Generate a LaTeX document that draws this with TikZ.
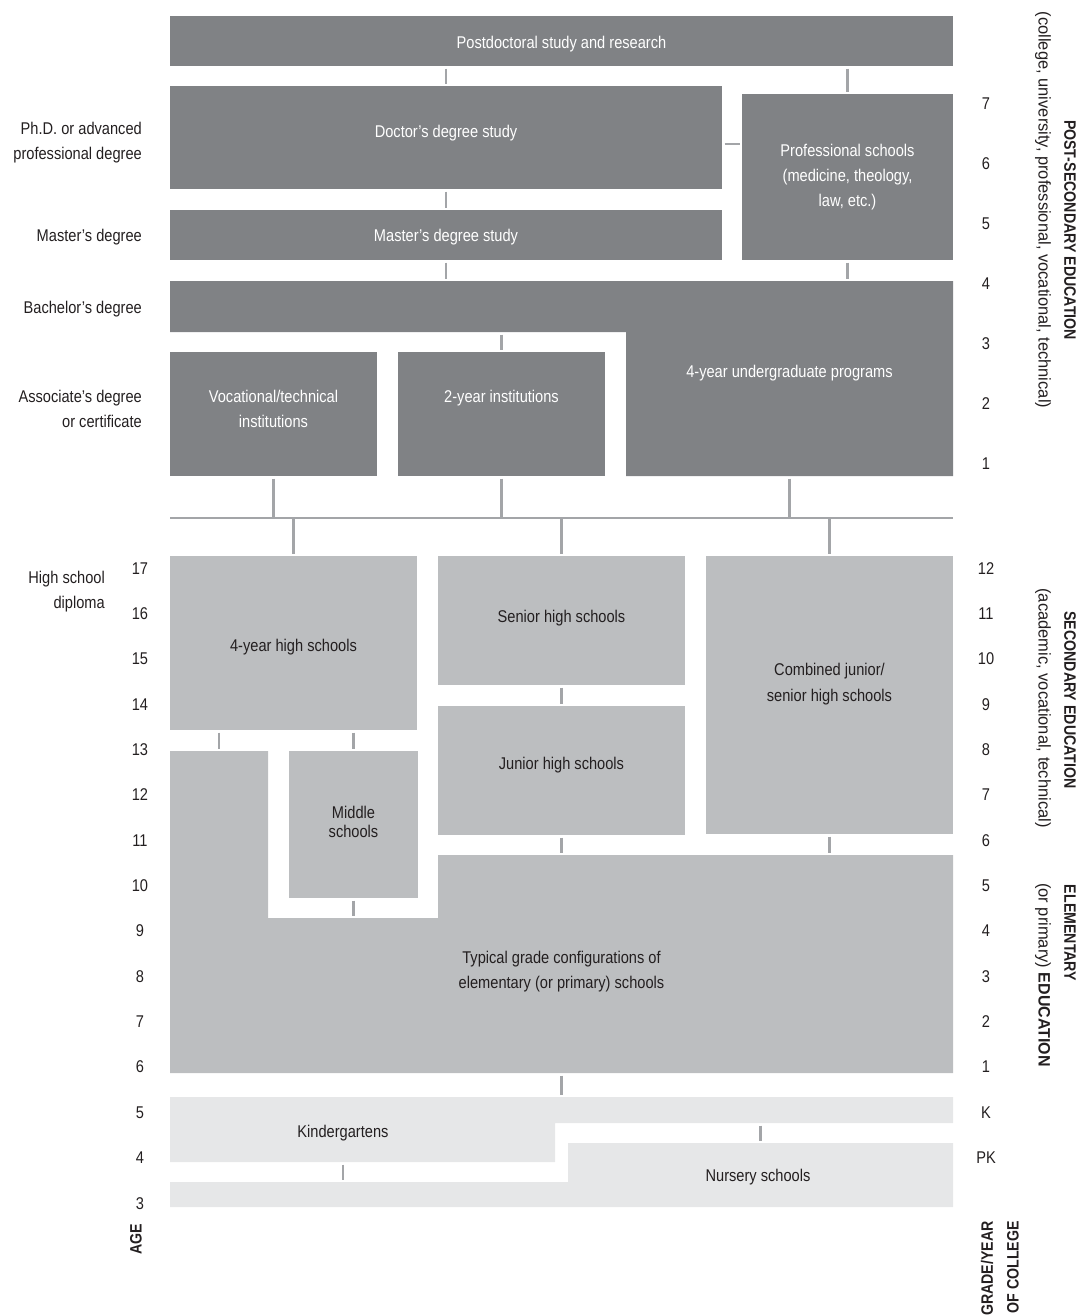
\documentclass[tikz,border=0pt]{standalone}
\usepackage{fontspec}
\setmainfont{Liberation Sans}[FakeStretch=0.86]
\newfontfamily\sidefont{Liberation Sans}[FakeStretch=0.97]
\usetikzlibrary{calc}
\definecolor{dk}{RGB}{128,130,133}
\definecolor{md}{RGB}{188,190,192}
\definecolor{lt}{RGB}{230,231,232}
\definecolor{ln}{RGB}{163,165,168}
\definecolor{tx}{RGB}{35,31,32}
\newcommand\myfs{\fontsize{17}{25}\selectfont}
\newcommand\mybf{\fontsize{16.5}{25}\selectfont\bfseries}
\newcommand\mysd{\fontsize{17}{25}\selectfont\sidefont}
\begin{document}
\begin{tikzpicture}[x=1pt,y=-1pt,
  box/.style={anchor=north west, inner sep=0pt, outer sep=0pt, draw=none},
  dbox/.style={box, fill=dk},
  mbox/.style={box, fill=md},
  txt/.style={inner sep=0pt, anchor=base, align=center, font=\myfs, text=tx},
  wtxt/.style={txt, text=white},
  ltxt/.style={inner sep=0pt, anchor=base east, align=right, font=\myfs, text=tx},
  num/.style={inner sep=0pt, anchor=base, font=\myfs, text=tx},
  vtitle/.style={inner sep=0pt, anchor=center, rotate=-90, text=tx},
  conn/.style={draw=ln, line width=2.2pt, shorten <=2.5pt, shorten >=2.5pt},
  connl/.style={draw=ln, line width=2.2pt, shorten <=2.5pt},
  connr/.style={draw=ln, line width=2.2pt, shorten >=2.5pt}
]
\useasboundingbox (0,0) rectangle (1083,1315);

% ---------- post-secondary ----------
\node[dbox, minimum width=783pt, minimum height=50pt] (pd) at (170,16) {};
\node[dbox, minimum width=552pt, minimum height=103pt] (doc) at (170,86) {};
\node[dbox, minimum width=211pt, minimum height=166pt] (prof) at (742,94) {};
\node[dbox, minimum width=552pt, minimum height=50pt] (mas) at (170,210) {};
\fill[dk] (170,281) -- (953,281) -- (953,476) -- (626,476) -- (626,332) -- (170,332) -- cycle;
\coordinate (bachN) at (170,281);
\coordinate (bachS) at (170,332);
\coordinate (ugS) at (789.5,476);
\node[dbox, minimum width=207pt, minimum height=124pt] (voc) at (170,352) {};
\node[dbox, minimum width=207pt, minimum height=124pt] (two) at (398,352) {};

% ---------- secondary ----------
\node[mbox, minimum width=247pt, minimum height=174pt] (hs4) at (170,556) {};
\node[mbox, minimum width=247pt, minimum height=129pt] (sen) at (438,556) {};
\node[mbox, minimum width=247pt, minimum height=278pt] (comb) at (706,556) {};
\node[mbox, minimum width=247pt, minimum height=129pt] (jun) at (438,706) {};
\node[mbox, minimum width=129pt, minimum height=147pt] (mid) at (289,751) {};
\fill[md] (170,751) -- (268,751) -- (268,918) -- (438,918) -- (438,855) -- (953,855) -- (953,1073) -- (170,1073) -- cycle;
\coordinate (elcolN) at (219,751);
\coordinate (elemN) at (438,855);
\coordinate (gapB) at (268,918);
\coordinate (elemS) at (561.5,1073);

% ---------- pre-primary ----------
\fill[lt] (170,1097) -- (953,1097) -- (953,1123) -- (555,1123) -- (555,1162) -- (170,1162) -- cycle;
\fill[lt] (170,1182) -- (568,1182) -- (568,1143) -- (953,1143) -- (953,1207) -- (170,1207) -- cycle;
\coordinate (kN) at (170,1097);
\coordinate (kRB) at (953,1123);
\coordinate (kLB) at (343,1162);
\coordinate (nuN) at (760.5,1143);
\coordinate (nuBL) at (170,1182);

% ---------- connectors ----------
\draw[conn] (pd.south -| doc.north) -- (doc.north);
\draw[conn] (pd.south -| prof.north) -- (prof.north);
\coordinate (dpy) at (0,144);
\draw[conn] (doc.east |- dpy) -- (prof.west |- dpy);
\draw[conn] (doc.south) -- (mas.north);
\draw[conn] (mas.south) -- (mas.south |- bachN);
\draw[conn] (prof.south) -- (prof.south |- bachN);
\draw[conn] (two.north |- bachS) -- (two.north);
\coordinate (hlW) at (170,518);
\coordinate (hlE) at (953,518);
\draw[draw=ln, line width=2.6pt] (hlW) -- (hlE);
\draw[connl] (voc.south) -- (voc.south |- hlW);
\draw[connl] (two.south) -- (two.south |- hlW);
\draw[connl] (ugS) -- (ugS |- hlW);
\draw[connr] (hlW -| hs4.north) -- (hs4.north);
\draw[connr] (hlW -| sen.north) -- (sen.north);
\draw[connr] (hlW -| comb.north) -- (comb.north);
\draw[conn] (hs4.south -| elcolN) -- (elcolN);
\draw[conn] (hs4.south -| mid.north) -- (mid.north);
\draw[conn] (sen.south) -- (jun.north);
\draw[conn] (jun.south) -- (jun.south |- elemN);
\draw[conn] (comb.south) -- (comb.south |- elemN);
\draw[conn] (mid.south) -- (mid.south |- gapB);
\draw[conn] (elemS) -- (elemS |- kN);
\draw[conn] (nuN |- kRB) -- (nuN);
\draw[conn] (kLB) -- (kLB |- nuBL);

% ---------- box texts (base = baseline of last line) ----------
\node[wtxt] (pdT) at (561.5,48) {Postdoctoral study and research};
\node[wtxt] (docT) at (446,137) {Doctor’s degree study};
\node[wtxt] (profT) at (847.5,206) {Professional schools\\(medicine, theology,\\law, etc.)};
\node[wtxt] (masT) at (446,241) {Master’s degree study};
\node[wtxt] (ugT) at (789.5,377) {4-year undergraduate programs};
\node[wtxt] (vocT) at (273.5,427) {Vocational/technical\\institutions};
\node[wtxt] (twoT) at (501.5,402) {2-year institutions};
\node[txt] (hs4T) at (293.5,651) {4-year high schools};
\node[txt] (senT) at (561.5,622) {Senior high schools};
\node[txt, font=\fontsize{17}{26}\selectfont] (combT) at (829.5,701) {Combined junior/\\senior high schools};
\node[txt] (junT) at (561.5,769) {Junior high schools};
\node[txt, font=\fontsize{17}{19}\selectfont] (midT) at (353.5,837) {Middle\\schools};
\node[txt] (elemT) at (561.5,988) {Typical grade configurations of\\elementary (or primary) schools};
\node[txt] (kT) at (343,1137) {Kindergartens};
\node[txt] (nuT) at (758,1181) {Nursery schools};

% ---------- left labels ----------
\node[ltxt] (phdL) at (142,159) {Ph.D. or advanced\\professional degree};
\node[ltxt] (masL) at (142,241) {Master’s degree};
\node[ltxt] (bachL) at (142,313) {Bachelor’s degree};
\node[ltxt] (assocL) at (142,427) {Associate’s degree\\or certificate};
\node[ltxt] (hsL) at (105,608) {High school\\diploma};

% ---------- ages and grades ----------
\foreach \a in {3,...,17} {
  \node[num] (age\a) at (140,{574+(17-\a)*45.36}) {\a};
}
\foreach \g/\i in {12/0,11/1,10/2,9/3,8/4,7/5,6/6,5/7,4/8,3/9,2/10,1/11,K/12,PK/13} {
  \node[num] (gr\i) at (986,{574+\i*45.36}) {\g};
}
\foreach \g in {1,...,7} {
  \node[num] (ps\g) at (986,{109+(7-\g)*60}) {\g};
}

% ---------- side titles ----------
\node[vtitle, font=\mybf] (psB) at (1070,230) {POST-SECONDARY EDUCATION};
\node[vtitle, font=\mysd] (psP) at (1043,210) {(college, university, professional, vocational, technical)};
\node[vtitle, font=\mybf] (secB) at (1070,700) {SECONDARY EDUCATION};
\node[vtitle, font=\mysd] (secP) at (1043,708) {(academic, vocational, technical)};
\node[vtitle, font=\mybf] (elB) at (1070,933) {ELEMENTARY};
\node[vtitle, font=\mysd] (elP) at (1043,975) {(or primary) {\mybf EDUCATION}};
\node[inner sep=0pt, anchor=center, rotate=90, font=\mybf, text=tx] (ageL) at (136,1239) {AGE};
\node[inner sep=0pt, anchor=east, rotate=90, font=\mybf, text=tx] (grL1) at (987,1221) {GRADE/YEAR};
\node[inner sep=0pt, anchor=east, rotate=90, font=\mybf, text=tx] (grL2) at (1013,1221) {OF COLLEGE};
\end{tikzpicture}
\end{document}
